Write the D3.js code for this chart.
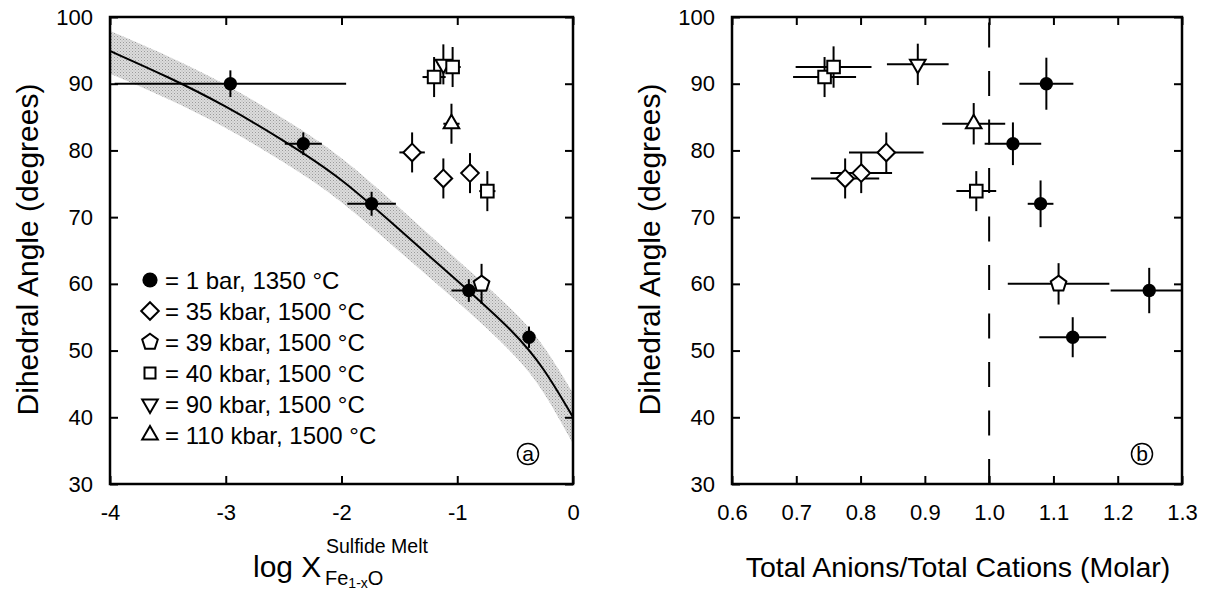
<!DOCTYPE html>
<html>
<head>
<meta charset="utf-8">
<script src="https://cdn.jsdelivr.net/npm/d3@7"></script>
<style>
  body { margin: 0; background: #fff; }
  svg text { font-family: "Liberation Sans", Arial, Helvetica, sans-serif; fill: #000; }
</style>
</head>
<body>
<svg id="fig" width="1226" height="592"></svg>
<script>
// Each row: log X(FeO in sulfide melt), ±, anion/cation ratio, ±, dihedral angle, ± (panel a), ± (panel b)
const bar1 = [
  [-2.96, 1.00, 1.089, 0.042, 90.0, 2.0, 3.9],
  [-2.33, 0.16, 1.037, 0.044, 81.0, 1.7, 3.2],
  [-1.74, 0.21, 1.080, 0.020, 72.0, 1.8, 3.5],
  [-0.90, 0.15, 1.249, 0.060, 59.0, 1.7, 3.4],
  [-0.38, 0.03, 1.130, 0.052, 52.0, 1.6, 3.0]
];
const kbar35 = [
  [-1.39, 0.11, 0.840, 0.058, 79.7, 3.0, 3.0],
  [-1.12, 0.04, 0.776, 0.053, 75.8, 3.0, 3.0],
  [-0.89, 0.04, 0.801, 0.048, 76.6, 3.0, 3.0]
];
const kbar39 = [
  [-0.79, 0.05, 1.108, 0.079, 60.0, 3.0, 3.1]
];
const kbar40 = [
  [-1.20, 0.10, 0.744, 0.049, 91.0, 3.0, 3.0],
  [-1.04, 0.07, 0.758, 0.059, 92.5, 3.0, 3.1],
  [-0.74, 0.07, 0.980, 0.031, 73.9, 3.0, 3.0]
];
const kbar90 = [
  [-1.12, 0.05, 0.889, 0.048, 92.9, 3.0, 3.1]
];
const kbar110 = [
  [-1.05, 0.07, 0.976, 0.049, 84.0, 3.0, 3.1]
];

// Fitted trend of angle vs log X and its uncertainty envelope
const fitLogX  = [-4.0, -3.5, -3.0, -2.5, -2.0, -1.5, -1.0, -0.5, -0.25, 0.0];
const fitAngle = [94.9, 91.05, 86.7, 81.5, 75.9, 68.1, 60.5, 52.7, 47.4, 40.0];
const bandHi   = [97.9, 94.2, 90.0, 84.8, 79.2, 71.4, 63.6, 55.9, 50.9, 43.6];
const bandLo   = [91.5, 87.8, 83.5, 78.3, 72.6, 64.8, 57.4, 49.5, 44.0, 36.0];

const angleTicks = [30, 40, 50, 60, 70, 80, 90, 100];
const logXTicks  = [-4, -3, -2, -1, 0];
const ratioTicks = [0.6, 0.7, 0.8, 0.9, 1.0, 1.1, 1.2, 1.3];
const stoichiometricRatio = 1.0;

const legendLabels = [
  "= 1 bar, 1350 \u00B0C",
  "= 35 kbar, 1500 \u00B0C",
  "= 39 kbar, 1500 \u00B0C",
  "= 40 kbar, 1500 \u00B0C",
  "= 90 kbar, 1500 \u00B0C",
  "= 110 kbar, 1500 \u00B0C"
];

// Marker shapes
function pentagonPath(r) {
  const pts = d3.range(5).map(k => {
    const a = -Math.PI / 2 + k * 2 * Math.PI / 5;
    return [r * Math.cos(a), r * Math.sin(a)];
  });
  return "M" + pts.map(p => p.join(",")).join("L") + "Z";
}
const shapes = {
  circle: d3.symbol(d3.symbolCircle, Math.PI * 6.7 * 6.7)(),
  bigCircle: d3.symbol(d3.symbolCircle, Math.PI * 7.6 * 7.6)(),
  diamond: "M0,-8.8L8.8,0L0,8.8L-8.8,0Z",
  pentagon: pentagonPath(8.2),
  square: "M-6.3,-6.3H6.3V6.3H-6.3Z",
  smallSquare: "M-5.5,-5.5H5.5V5.5H-5.5Z",
  triDown: "M-7.8,-4.5L7.8,-4.5L0,9Z",
  triUp: "M-7.8,4.5L7.8,4.5L0,-9Z"
};

// Drawing order: triangles beneath squares
const groups = [
  { rows: bar1,    shape: "circle",   filled: true },
  { rows: kbar35,  shape: "diamond",  filled: false },
  { rows: kbar39,  shape: "pentagon", filled: false },
  { rows: kbar90,  shape: "triDown",  filled: false },
  { rows: kbar110, shape: "triUp",    filled: false },
  { rows: kbar40,  shape: "square",   filled: false }
];
const legendShapes = ["bigCircle", "diamond", "pentagon", "smallSquare", "triDown", "triUp"];

const svg = d3.select("#fig");
const plotTop = 17, plotBottom = 484;
const yScale = d3.scaleLinear().domain([30, 100]).range([plotBottom, plotTop]);

const defs = svg.append("defs");
const pat = defs.append("pattern").attr("id", "stipple")
  .attr("width", 3).attr("height", 3).attr("patternUnits", "userSpaceOnUse");
pat.append("rect").attr("width", 3).attr("height", 3).attr("fill", "#dcdcdc");
pat.append("rect").attr("width", 1).attr("height", 1).attr("fill", "#9a9a9a");
pat.append("rect").attr("x", 1.5).attr("y", 1.5).attr("width", 1).attr("height", 1).attr("fill", "#b0b0b0");

const plainNum = d => String(d);
const oneDecimal = d => d.toFixed(1);

function panel(id, xScale, xTicks, xFmt) {
  const [x0, x1] = xScale.range();
  defs.append("clipPath").attr("id", "clip-" + id)
    .append("rect").attr("x", x0).attr("y", plotTop).attr("width", x1 - x0).attr("height", plotBottom - plotTop);

  const g = svg.append("g");
  const plot = g.append("g").attr("clip-path", `url(#clip-${id})`);

  // axes: inward ticks on all four sides
  g.append("g").attr("transform", `translate(0,${plotBottom})`)
    .call(d3.axisBottom(xScale).tickValues(xTicks).tickFormat(xFmt).tickSize(-8).tickPadding(20))
    .call(a => a.select(".domain").remove())
    .call(a => a.selectAll("line").attr("stroke-width", 2))
    .call(a => a.selectAll("text").attr("font-size", 22).attr("font-family", null));
  g.append("g").attr("transform", `translate(0,${plotTop})`)
    .call(d3.axisTop(xScale).tickValues(xTicks).tickFormat("").tickSize(-8))
    .call(a => a.select(".domain").remove())
    .call(a => a.selectAll("line").attr("stroke-width", 2));
  g.append("g").attr("transform", `translate(${x0},0)`)
    .call(d3.axisLeft(yScale).tickValues(angleTicks).tickFormat(plainNum).tickSize(-8).tickPadding(17))
    .call(a => a.select(".domain").remove())
    .call(a => a.selectAll("line").attr("stroke-width", 2))
    .call(a => a.selectAll("text").attr("font-size", 22).attr("font-family", null));
  g.append("g").attr("transform", `translate(${x1},0)`)
    .call(d3.axisRight(yScale).tickValues(angleTicks).tickFormat("").tickSize(-8))
    .call(a => a.select(".domain").remove())
    .call(a => a.selectAll("line").attr("stroke-width", 2));

  g.append("text")
    .attr("transform", `translate(${x0 - 72},${(plotTop + plotBottom) / 2 - 1}) rotate(-90)`)
    .attr("text-anchor", "middle").attr("font-size", 30)
    .text("Dihedral Angle (degrees)");

  return { g, plot, x0, x1 };
}

function drawPoints(p, xScale, xCol, xErrCol, yErrCol) {
  groups.forEach(grp => {
    const bars = p.plot.append("g").attr("stroke", "#000").attr("stroke-width", 2);
    grp.rows.forEach(r => {
      const cx = xScale(r[xCol]), cy = yScale(r[4]);
      bars.append("line")
        .attr("x1", xScale(r[xCol] - r[xErrCol])).attr("x2", xScale(r[xCol] + r[xErrCol]))
        .attr("y1", cy).attr("y2", cy);
      bars.append("line")
        .attr("x1", cx).attr("x2", cx)
        .attr("y1", yScale(r[4] - r[yErrCol])).attr("y2", yScale(r[4] + r[yErrCol]));
    });
  });
  groups.forEach(grp => {
    grp.rows.forEach(r => {
      p.g.append("path")
        .attr("d", shapes[grp.shape])
        .attr("transform", `translate(${xScale(r[xCol])},${yScale(r[4])})`)
        .attr("fill", grp.filled ? "#000" : "#fff")
        .attr("stroke", "#000").attr("stroke-width", grp.filled ? 0 : 2);
    });
  });
}

function frame(p) {
  p.g.append("rect").attr("x", p.x0).attr("y", plotTop)
    .attr("width", p.x1 - p.x0).attr("height", plotBottom - plotTop)
    .attr("fill", "none").attr("stroke", "#000").attr("stroke-width", 2.5);
}

function panelTag(p, cx, letter) {
  p.g.append("circle").attr("cx", cx).attr("cy", 454).attr("r", 10.5)
    .attr("fill", "none").attr("stroke", "#000").attr("stroke-width", 1.5);
  p.g.append("text").attr("x", cx).attr("y", 461).attr("text-anchor", "middle")
    .attr("font-size", 21).text(letter);
}

// ---- Panel (a): angle vs log X ----
const xA = d3.scaleLinear().domain([-4, 0]).range([110, 573]);
const pA = panel("a", xA, logXTicks, plainNum);

const bandData = fitLogX.map((v, i) => ({ x: v, hi: bandHi[i], lo: bandLo[i], mid: fitAngle[i] }));
pA.plot.append("path").datum(bandData)
  .attr("d", d3.area().x(d => xA(d.x)).y0(d => yScale(d.lo)).y1(d => yScale(d.hi)).curve(d3.curveBasis))
  .attr("fill", "url(#stipple)");
pA.plot.append("path").datum(bandData)
  .attr("d", d3.line().x(d => xA(d.x)).y(d => yScale(d.mid)).curve(d3.curveBasis))
  .attr("fill", "none").attr("stroke", "#000").attr("stroke-width", 2);

drawPoints(pA, xA, 0, 1, 5);
frame(pA);
panelTag(pA, 528, "a");

// legend
const leg = pA.g.append("g");
legendLabels.forEach((lab, i) => {
  const cy = 280 + i * 31;
  const sh = legendShapes[i];
  leg.append("path").attr("d", shapes[sh])
    .attr("transform", `translate(150,${cy})`)
    .attr("fill", sh === "bigCircle" ? "#000" : "#fff")
    .attr("stroke", "#000").attr("stroke-width", sh === "bigCircle" ? 0 : 2);
  leg.append("text").attr("x", 165).attr("y", cy + 8.5).attr("font-size", 24).text(lab);
});

// x-axis title with super/subscripts
const tA = pA.g.append("g");
tA.append("text").attr("x", 253).attr("y", 577).attr("font-size", 30).text("log X");
tA.append("text").attr("x", 326).attr("y", 553).attr("font-size", 19.5).text("Sulfide Melt");
const sub = tA.append("text").attr("x", 325).attr("y", 585).attr("font-size", 20);
sub.append("tspan").text("Fe");
sub.append("tspan").attr("font-size", 14).attr("dy", 3).text("1-x");
sub.append("tspan").attr("dy", -3).text("O");

// ---- Panel (b): angle vs anion/cation ratio ----
const xB = d3.scaleLinear().domain([0.6, 1.3]).range([732, 1182]);
const pB = panel("b", xB, ratioTicks, oneDecimal);

pB.plot.append("line")
  .attr("x1", xB(stoichiometricRatio)).attr("x2", xB(stoichiometricRatio))
  .attr("y1", yScale(30)).attr("y2", yScale(100))
  .attr("stroke", "#000").attr("stroke-width", 2).attr("stroke-dasharray", "25 23.5");

drawPoints(pB, xB, 2, 3, 6);
frame(pB);
panelTag(pB, 1142, "b");

pB.g.append("text").attr("x", 958).attr("y", 577).attr("text-anchor", "middle")
  .attr("font-size", 28.5).text("Total Anions/Total Cations (Molar)");
</script>
</body>
</html>
